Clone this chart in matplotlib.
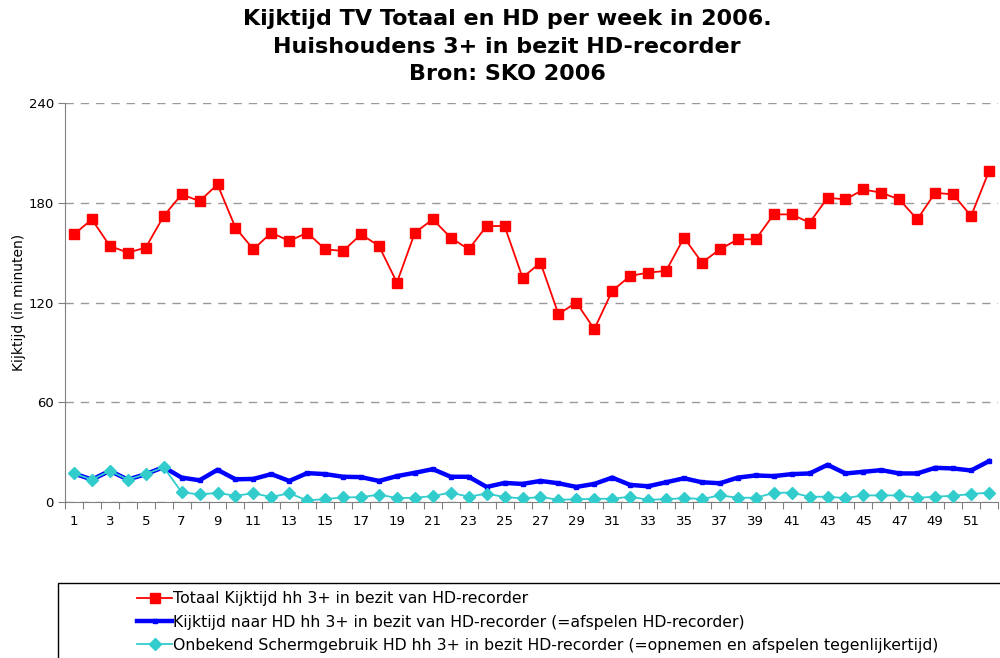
import numpy as np
import matplotlib
matplotlib.use("Agg")
import matplotlib.pyplot as plt
from matplotlib.patches import Rectangle

weeks = np.arange(1, 53)

totaal = [161, 170, 154, 150, 153, 172, 185, 181, 191, 165,
          152, 162, 157, 162, 152, 151, 161, 154, 132, 162,
          170, 159, 152, 166, 166, 135, 144, 113, 120, 104,
          127, 136, 138, 139, 159, 144, 152, 158, 158, 173,
          173, 168, 183, 182, 188, 186, 182, 170, 186, 185,
          172, 199]

hd = [17.2, 13.5, 18.8, 13.5, 16.8, 21.0, 14.7, 13.1, 19.4, 13.7,
      13.9, 16.8, 12.7, 17.4, 16.8, 15.2, 15.0, 12.7, 15.6, 17.6,
      19.8, 15.2, 15.2, 9.1, 11.5, 10.9, 12.7, 11.3, 9.1, 10.9,
      14.7, 10.3, 9.5, 11.9, 14.3, 11.9, 11.3, 14.7, 16.0, 15.6,
      16.8, 17.2, 22.4, 17.2, 18.2, 19.2, 17.2, 17.2, 20.6, 20.2,
      19.0, 24.6]

onbekend = [17.2, 13.5, 18.8, 13.5, 16.8, 21.0, 5.9, 4.6, 5.5, 3.8,
            5.3, 3.0, 5.3, 1.0, 1.8, 2.8, 2.9, 4.5, 2.4, 2.6,
            3.6, 5.7, 3.2, 5.1, 3.0, 2.2, 3.0, 1.4, 1.6, 2.0,
            2.0, 3.2, 1.4, 1.7, 2.4, 1.8, 4.0, 2.6, 2.6, 5.5,
            5.7, 3.2, 3.2, 2.4, 4.0, 4.0, 4.0, 2.6, 3.2, 3.8,
            4.8, 5.7]

labels = ["Totaal Kijktijd hh 3+ in bezit van HD-recorder",
          "Kijktijd naar HD hh 3+ in bezit van HD-recorder (=afspelen HD-recorder)",
          "Onbekend Schermgebruik HD hh 3+ in bezit HD-recorder (=opnemen en afspelen tegenlijkertijd)"]

plt.rcParams['font.family'] = 'DejaVu Sans'

fig = plt.figure(figsize=(10, 6.58), dpi=100)
ax = fig.add_axes([0.065, 0.237, 0.933, 0.6065])

l1, = ax.plot(weeks, totaal, color='#ff0000', lw=1.3, marker='s',
              markersize=7, markeredgecolor='#ff0000', zorder=3)
l2, = ax.plot(weeks, hd, color='#0000ff', lw=3.2, marker='s',
              markersize=3, zorder=2)
l3, = ax.plot(weeks, onbekend, color='#33cccc', lw=1.3, marker='D',
              markersize=6, zorder=4)

ax.set_xlim(0.5, 52.5)
ax.set_ylim(0, 240)
ax.set_yticks([0, 60, 120, 180, 240])
ax.yaxis.grid(True, color='#999999', linestyle=(0, (6, 5)), lw=1)
ax.set_axisbelow(True)

# tick marks between categories, labels on odd weeks
ax.set_xticks(np.arange(0.5, 53, 1))
ax.set_xticklabels([])
ax.set_xticks(weeks[::2], minor=True)
ax.set_xticklabels([str(w) for w in weeks[::2]], minor=True, fontsize=9.5)
ax.tick_params(axis='x', which='minor', length=0, pad=9)
ax.tick_params(axis='x', which='major', length=5, color='#808080')
ax.tick_params(axis='y', length=5, color='#808080', labelsize=9.5, pad=3)

for s in ['top', 'right']:
    ax.spines[s].set_visible(False)
for s in ['left', 'bottom']:
    ax.spines[s].set_color('#808080')

ax.set_ylabel("Kijktijd (in minuten)", fontsize=10, labelpad=2)

fig.suptitle("Kijktijd TV Totaal en HD per week in 2006.\n"
             "Huishoudens 3+ in bezit HD-recorder\nBron: SKO 2006",
             fontsize=16, fontweight='bold', x=0.507, y=0.986, linespacing=1.47)

fig.patches.append(Rectangle((0.058, -0.1), 1.0, 0.214, transform=fig.transFigure,
                             fill=False, edgecolor='black', lw=1))
fig.legend([l1, l2, l3], labels, loc='upper left',
           bbox_to_anchor=(0.131, 0.111), frameon=False, fontsize=11.3,
           handlelength=2.2, handletextpad=0.1, labelspacing=0.53,
           borderaxespad=0)

fig.savefig("out.png", dpi=100)
